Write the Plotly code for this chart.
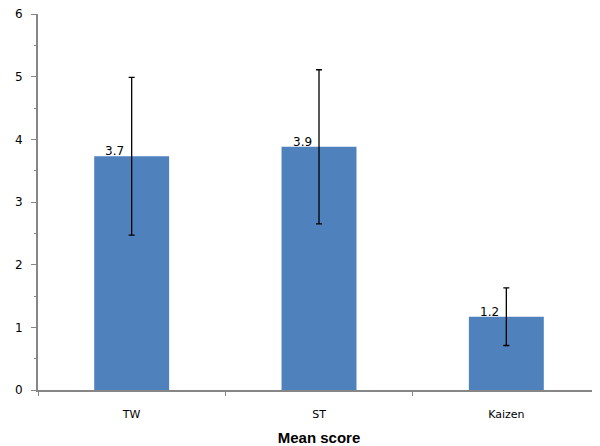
import plotly.graph_objects as go

categories = ["TW", "ST", "Kaizen"]
means = [3.73, 3.88, 1.17]
errors = [1.26, 1.23, 0.46]
labels = ["3.7", "3.9", "1.2"]

fig = go.Figure()
fig.add_trace(go.Bar(
    x=categories, y=means,
    marker=dict(color="#4F81BD", line=dict(width=0)),
    width=0.4,
    error_y=dict(type="data", array=errors, color="black", thickness=1.3, width=3),
))
for c, v, t in zip(categories, means, labels):
    fig.add_annotation(x=c, y=v, text=t, showarrow=False, xshift=-17, yshift=5,
                       font=dict(family="DejaVu Sans", size=12, color="black"))

fig.update_layout(
    width=592, height=438,
    margin=dict(l=30, r=0, t=6, b=56),
    plot_bgcolor="white", paper_bgcolor="white",
    showlegend=False,
    xaxis=dict(
        automargin=False,
        showline=True, linecolor="#868686", linewidth=2,
        ticks="outside", tickson="boundaries", ticklen=4, tickcolor="#868686",
        ticklabelstandoff=13,
        tickfont=dict(family="DejaVu Sans", size=11, color="black"),
        title=dict(text="<b>Mean score</b>", font=dict(family="Liberation Sans", size=15, color="black"), standoff=15),
    ),
    yaxis=dict(
        automargin=False,
        range=[0, 6], dtick=1, showgrid=False, zeroline=False,
        showline=True, linecolor="#868686", linewidth=2,
        ticks="outside", ticklen=5, tickcolor="#868686",
        ticklabelstandoff=6, ticklabeloverflow="allow",
        tickfont=dict(family="DejaVu Sans", size=12, color="black"),
        minor=dict(ticks="outside", ticklen=2, dtick=0.5, tickcolor="#868686"),
    ),
)
fig.write_html("out.html")
